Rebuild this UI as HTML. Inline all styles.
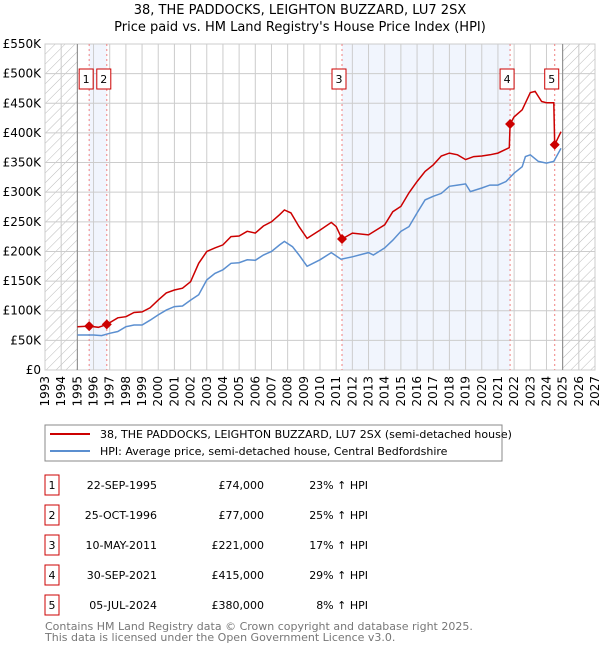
<!DOCTYPE html>
<html><head><meta charset="utf-8"><style>
body{margin:0;background:#fff;font-family:"DejaVu Sans","Liberation Sans",sans-serif;}
svg text{font-family:"DejaVu Sans","Liberation Sans",sans-serif;}
</style></head><body>
<svg id="c" width="600" height="650" xmlns="http://www.w3.org/2000/svg">
<defs><pattern id="h" width="7" height="7" patternUnits="userSpaceOnUse" patternTransform="rotate(45)"><line x1="0" y1="0" x2="0" y2="7" stroke="#bbb" stroke-width="1"/></pattern></defs>
<text x="300" y="14" text-anchor="middle" font-size="13">38, THE PADDOCKS, LEIGHTON BUZZARD, LU7 2SX</text>
<text x="300" y="31" text-anchor="middle" font-size="13">Price paid vs. HM Land Registry's House Price Index (HPI)</text>
<g id="plot"></g>
<rect x="45" y="425" width="457" height="36" fill="none" stroke="#888"/>
<line x1="50" y1="434" x2="90" y2="434" stroke="#cc0000" stroke-width="2"/>
<text x="100" y="438" font-size="11">38, THE PADDOCKS, LEIGHTON BUZZARD, LU7 2SX (semi-detached house)</text>
<line x1="50" y1="451" x2="90" y2="451" stroke="#5b8fd0" stroke-width="2"/>
<text x="100" y="455" font-size="11">HPI: Average price, semi-detached house, Central Bedfordshire</text>
<g id="table" font-size="11"></g>
<text x="45" y="630" font-size="11" fill="#777">Contains HM Land Registry data © Crown copyright and database right 2025.</text>
<text x="45" y="641" font-size="11" fill="#777">This data is licensed under the Open Government Licence v3.0.</text>
</svg>
<script>
const yTicks=[0,50,100,150,200,250,300,350,400,450,500,550];
const years=[1993,1994,1995,1996,1997,1998,1999,2000,2001,2002,2003,2004,2005,2006,2007,2008,2009,2010,2011,2012,2013,2014,2015,2016,2017,2018,2019,2020,2021,2022,2023,2024,2025,2026,2027];
const hpiT=[1995.0,1996,1996.5,1997,1997.5,1998,1998.5,1999,1999.5,2000,2000.5,2001,2001.5,2002,2002.5,2003,2003.5,2004,2004.5,2005,2005.5,2006,2006.5,2007,2007.5,2007.8,2008.3,2008.7,2009.2,2010,2010.7,2011.3,2012,2013,2013.3,2014,2014.5,2015,2015.5,2016,2016.5,2017,2017.5,2018,2018.5,2019,2019.3,2020,2020.5,2021,2021.5,2022,2022.5,2022.7,2023,2023.5,2024,2024.45,2024.9];
const hpiV=[59,59,58,62,65,73,76,76,84,93,101,107,108,118,127,152,163,169,180,181,186,185,194,200,211,217,208,194,175,186,198,187,191,198,194,206,219,234,242,265,287,293,298,310,312,314,301,307,312,312,318,332,343,360,363,352,349,352,374];
const redT=[1995.0,1995.73,1996.3,1996.82,1997.5,1998,1998.5,1999,1999.5,2000,2000.5,2001,2001.5,2002,2002.5,2003,2003.5,2004,2004.5,2005,2005.5,2006,2006.5,2007,2007.5,2007.8,2008.2,2008.7,2009.2,2010,2010.7,2011.0,2011.36,2012,2013,2014,2014.5,2015,2015.5,2016,2016.5,2017,2017.5,2018,2018.5,2019,2019.5,2020,2020.5,2021,2021.7,2021.75,2022,2022.5,2023,2023.3,2023.7,2024,2024.45,2024.51,2024.9];
const redV=[73,74,72,77,88,90,97,98,105,118,130,135,138,149,180,200,206,211,225,226,234,231,243,250,262,270,265,242,222,236,249,242,221,231,228,245,267,276,299,318,335,346,361,366,363,355,360,361,363,366,375,415,427,439,468,470,453,451,451,380,402];
const saleT=[1995.73,1996.82,2011.36,2021.75,2024.51];
const saleV=[74,77,221,415,380];
const saleLbl=["1","2","3","4","5"];
const saleDate=["22-SEP-1995","25-OCT-1996","10-MAY-2011","30-SEP-2021","05-JUL-2024"];
const salePrice=["£74,000","£77,000","£221,000","£415,000","£380,000"];
const salePct=["23% ↑ HPI","25% ↑ HPI","17% ↑ HPI","29% ↑ HPI","8% ↑ HPI"];

const NS="http://www.w3.org/2000/svg";
const L=45,R=595,T=44,B=370;
const x=t=>L+(t-1993)/34*(R-L);
const y=v=>B-v/550*(B-T);
function mk(p,tag,a){const e=document.createElementNS(NS,tag);for(const k in a)e.setAttribute(k,a[k]);p.appendChild(e);return e;}
const g=document.getElementById('plot');
let e=mk(g,'rect',{x:L,y:T,width:x(1995)-L,height:B-T,fill:'url(#h)'});


e=mk(g,'rect',{x:x(2025),y:T,width:R-x(2025),height:B-T,fill:'url(#h)'});


[[0,1],[2,3]].forEach((p,i)=>{
 const s=mk(g,'rect',{x:x(saleT[p[0]]),y:T,width:x(saleT[p[1]])-x(saleT[p[0]]),height:B-T,fill:'#eef3fc',opacity:0.8});
 
 
});
years.forEach(yr=>{
 const l=mk(g,'line',{x1:x(yr),x2:x(yr),y1:T,y2:B,stroke:'#ccc'});
 
 
 const t=mk(g,'text',{x:0,y:0,'font-size':12,'text-anchor':'end',transform:`translate(${x(yr)+4},${B+6}) rotate(-90)`});
 t.textContent=yr;
 
 
});
yTicks.forEach(v=>{
 const l=mk(g,'line',{x1:L,x2:R,y1:y(v),y2:y(v),stroke:'#ccc'});
 
 
 const t=mk(g,'text',{x:L-4,y:y(v)+4,'font-size':12,'text-anchor':'end'});
 t.textContent=v===0?'£0':'£'+v+'K';
 
 
});
e=mk(g,'rect',{x:L,y:T,width:R-L,height:B-T,fill:'none',stroke:'#ccc'});


e=mk(g,'line',{x1:x(1995),x2:x(1995),y1:T,y2:B,stroke:'#888'});


e=mk(g,'line',{x1:x(2025),x2:x(2025),y1:T,y2:B,stroke:'#888'});


saleT.forEach((t,i)=>{
 const l=mk(g,'line',{x1:x(t),x2:x(t),y1:T,y2:B,stroke:'#f08080','stroke-dasharray':'2,3'});
 
 
});
const path=(T_,V_)=>T_.map((t,i)=>(i?'L':'M')+x(t).toFixed(1)+','+y(V_[i]).toFixed(1)).join('');
e=mk(g,'path',{d:path(hpiT,hpiV),fill:'none',stroke:'#5b8fd0','stroke-width':1.5});


e=mk(g,'path',{d:path(redT,redV),fill:'none',stroke:'#cc0000','stroke-width':1.5});


saleT.forEach((t,i)=>{
 const cx=x(t),cy=y(saleV[i]);
 const d=mk(g,'polygon',{points:`${cx},${cy-5} ${cx+5},${cy} ${cx},${cy+5} ${cx-5},${cy}`,fill:'#cc0000'});
 
 
 const b=mk(g,'rect',{x:cx-10,y:69,width:14,height:20,fill:'#fff',stroke:'#cc0000'});
 
 
 const tx=mk(g,'text',{x:cx-3,y:83,'font-size':11,'text-anchor':'middle'});
 tx.textContent=saleLbl[i];
 
 
});
const tb=document.getElementById('table');
saleLbl.forEach((s,i)=>{
 const yy=475+i*30;
 const b=mk(tb,'rect',{x:45,y:yy,width:14,height:20,fill:'#fff',stroke:'#cc0000'});
 
 
 const cells=[[52,s,'middle','table-row-number'],[157,saleDate[i],'end','table-date'],[264,salePrice[i],'end','table-price'],[368,salePct[i],'end','table-hpi-change']];
 cells.forEach(c=>{
  const t=mk(tb,'text',{x:c[0],y:yy+14,'text-anchor':c[2]});
  t.textContent=c[1];
  
  
 });
});
</script>
</body></html>
